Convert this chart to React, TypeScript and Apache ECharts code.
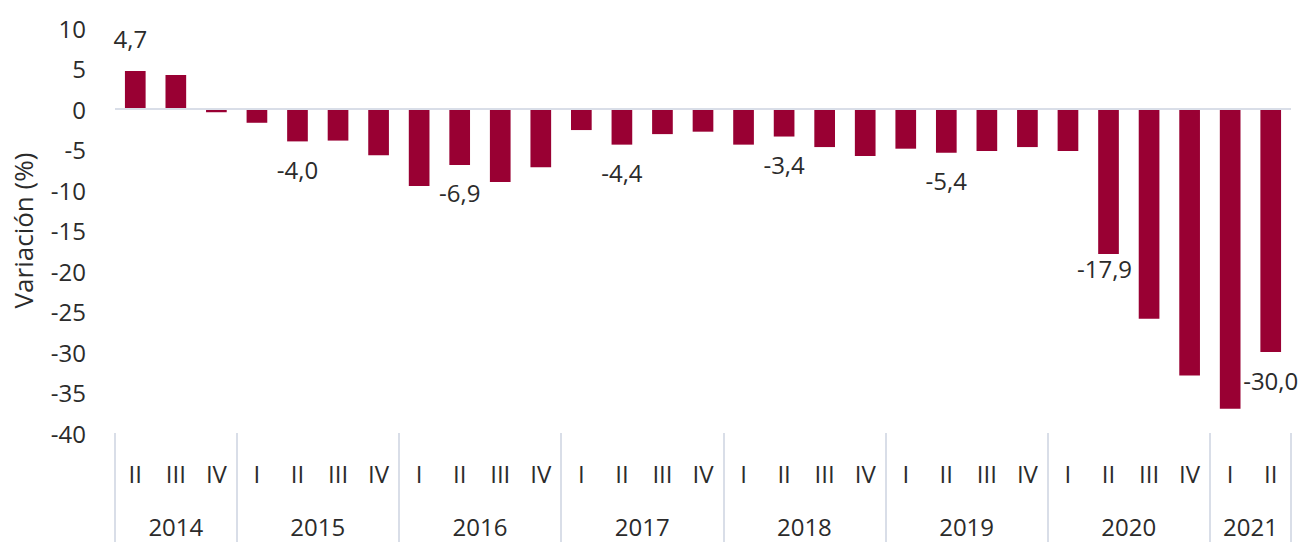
import React, { useEffect, useRef } from 'react';
import * as echarts from 'echarts';

const years = ['2014', '2015', '2016', '2017', '2018', '2019', '2020', '2021'];
const quartersByYear = [
  ['II', 'III', 'IV'],
  ['I', 'II', 'III', 'IV'],
  ['I', 'II', 'III', 'IV'],
  ['I', 'II', 'III', 'IV'],
  ['I', 'II', 'III', 'IV'],
  ['I', 'II', 'III', 'IV'],
  ['I', 'II', 'III', 'IV'],
  ['I', 'II'],
];
const values = [
  4.7, 4.2, -0.4,
  -1.7, -4.0, -3.9, -5.7,
  -9.5, -6.9, -9.0, -7.2,
  -2.6, -4.4, -3.1, -2.8,
  -4.4, -3.4, -4.7, -5.8,
  -4.9, -5.4, -5.2, -4.7,
  -5.2, -17.9, -25.9, -32.9,
  -37.0, -30.0,
];
const labelled = ['2014 II', '2015 II', '2016 II', '2017 II', '2018 II', '2019 II', '2020 II', '2021 II'];
const yMin = -40;
const yMax = 10;
const yStep = 5;

const FONT = "'Open Sans', 'Noto Sans', sans-serif";
const TEXT = '#2b2b2b';
const BAR = '#990033';
const LINE = '#d9dee8';

export default function App() {
  const ref = useRef<HTMLDivElement>(null);

  useEffect(() => {
    if (!ref.current) return;
    const chart = echarts.init(ref.current, undefined, { renderer: 'svg' });

    const categories: string[] = [];
    const quarterOf: string[] = [];
    const yearLabelAt: Record<number, { year: string; shift: boolean }> = {};
    const yearStarts: number[] = [];
    years.forEach((y, yi) => {
      const qs = quartersByYear[yi];
      const start = categories.length;
      yearStarts.push(start);
      qs.forEach((q) => {
        categories.push(`${y} ${q}`);
        quarterOf.push(q);
      });
      const n = qs.length;
      yearLabelAt[start + Math.floor((n - 1) / 2)] = { year: y, shift: n % 2 === 0 };
    });

    const gridLeft = 115;
    const gridRight = 21;
    const band = (1312 - gridLeft - gridRight) / categories.length;

    const data = values.map((v, i) => {
      const name = categories[i];
      const show = labelled.includes(name);
      let label: any = { show: false };
      if (show) {
        if (v >= 0) {
          label = { show: true, position: 'top', distance: 20, offset: [-5, 0] };
        } else if (name === '2020 II') {
          label = { show: true, position: 'bottom', distance: 3, offset: [-4, 0] };
        } else {
          label = { show: true, position: 'bottom', distance: 16 };
        }
      }
      return { value: v, label };
    });

    chart.setOption({
      animation: false,
      textStyle: { fontFamily: FONT },
      grid: { left: gridLeft, right: gridRight, top: 28, bottom: 109, containLabel: false },
      xAxis: [
        {
          type: 'category',
          data: categories,
          position: 'bottom',
          axisLine: { show: false, onZero: false },
          axisTick: { show: false },
          axisLabel: {
            interval: 0,
            margin: 28,
            fontSize: 24,
            fontFamily: FONT,
            color: TEXT,
            formatter: (_v: string, i: number) => quarterOf[i],
          },
          splitLine: { show: false },
        },
        {
          type: 'category',
          data: categories,
          position: 'bottom',
          axisLine: { show: false, onZero: false },
          axisTick: {
            show: true,
            length: 110,
            interval: (i: number) => yearStarts.includes(i),
            lineStyle: { color: LINE, width: 2 },
          },
          axisLabel: {
            interval: (i: number) => yearLabelAt[i] !== undefined,
            margin: 81,
            fontSize: 24,
            fontFamily: FONT,
            color: TEXT,
            formatter: (_v: string, i: number) => {
              const info = yearLabelAt[i];
              if (!info) return '';
              return info.shift ? `{s|${info.year}}` : `{c|${info.year}}`;
            },
            rich: {
              s: { padding: [0, 0, 0, band], fontSize: 24, fontFamily: FONT, color: TEXT },
              c: { fontSize: 24, fontFamily: FONT, color: TEXT },
            },
          },
          splitLine: { show: false },
        },
      ],
      yAxis: {
        type: 'value',
        min: yMin,
        max: yMax,
        interval: yStep,
        name: 'Variación (%)',
        nameLocation: 'middle',
        nameGap: 79,
        nameTextStyle: { fontSize: 26, fontFamily: FONT, color: TEXT },
        axisLine: { show: false },
        axisTick: { show: false },
        splitLine: { show: false },
        axisLabel: { fontSize: 24, fontFamily: FONT, color: TEXT, margin: 29 },
      },
      series: [
        {
          type: 'bar',
          xAxisIndex: 0,
          data,
          barWidth: '51%',
          itemStyle: { color: BAR },
          label: {
            fontSize: 24,
            fontFamily: FONT,
            color: TEXT,
            formatter: (p: any) => Number(p.value).toFixed(1).replace('.', ','),
          },
          markLine: {
            silent: true,
            symbol: 'none',
            label: { show: false },
            lineStyle: { color: LINE, width: 2, type: 'solid' },
            data: [{ yAxis: 0 }],
          },
        },
      ],
    });

    return () => chart.dispose();
  }, []);

  return (
    <div
      ref={ref}
      style={{ position: 'fixed', left: 0, top: 0, width: 1312, height: 542, background: '#ffffff' }}
    />
  );
}
